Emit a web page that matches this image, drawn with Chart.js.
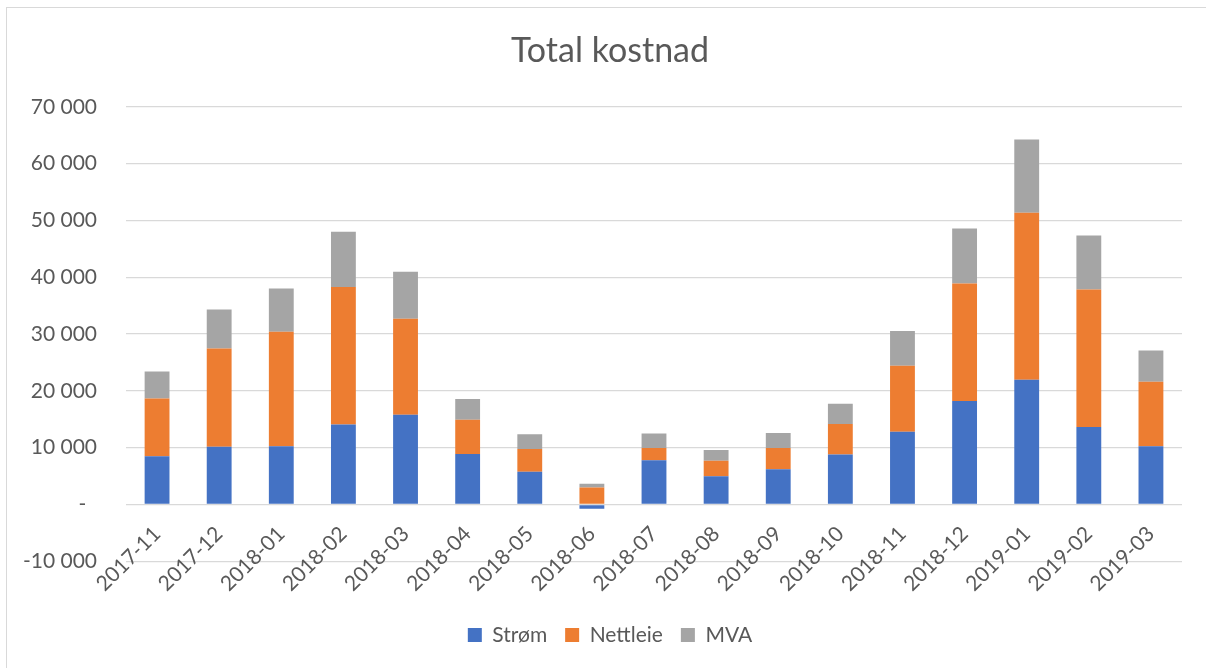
<!DOCTYPE html>
<html>
<head>
<meta charset="utf-8">
<script src="https://cdn.jsdelivr.net/npm/chart.js@4/dist/chart.umd.min.js"></script>
<style>
  html, body { margin: 0; padding: 0; background: #ffffff; overflow: hidden; }
  #wrap { position: relative; width: 1206px; height: 668px; }
  #frame { position: absolute; left: 6px; top: 7px; width: 1300px; height: 800px;
           border: 1.5px solid #d9d9d9; box-sizing: border-box; pointer-events: none; }
  canvas { position: absolute; left: 0; top: 0; }
</style>
</head>
<body>
<div id="wrap">
  <canvas id="c" width="1206" height="668"></canvas>
  <div id="frame"></div>
</div>
<script>
const categories = ["2017-11","2017-12","2018-01","2018-02","2018-03","2018-04","2018-05","2018-06","2018-07","2018-08","2018-09","2018-10","2018-11","2018-12","2019-01","2019-02","2019-03"];
const strom    = [8500, 10150, 10250, 14100, 15800, 8900, 5750, -750, 7800, 4950, 6200, 8800, 12800, 18200, 21950, 13650, 10250];
const nettleie = [10150, 17300, 20150, 24200, 16900, 6000, 4000, 3000, 2150, 2750, 3750, 5350, 11600, 20700, 29400, 24200, 11350];
const mva      = [4750, 6850, 7600, 9700, 8250, 3650, 2600, 650, 2550, 1900, 2650, 3600, 6150, 9700, 12900, 9500, 5500];
const seriesNames = ["Strøm", "Nettleie", "MVA"];
const titleText = "Total kostnad";
const yMin = -10000, yMax = 70000, yStep = 10000;

const FONT = "Lato, 'Open Sans', sans-serif";
const TXT = "#595959";

function fmt(v) {
  if (v === 0) return "-  ";
  const s = Math.abs(v).toString().replace(/\B(?=(\d{3})+(?!\d))/g, " ");
  return (v < 0 ? "-" : "") + s;
}

new Chart(document.getElementById("c"), {
  type: "bar",
  data: {
    labels: categories,
    datasets: [
      { label: seriesNames[0], data: strom, backgroundColor: "#4472C4" },
      { label: seriesNames[1], data: nettleie, backgroundColor: "#ED7D31" },
      { label: seriesNames[2], data: mva, backgroundColor: "#A5A5A5" }
    ]
  },
  options: {
    responsive: false,
    animation: false,
    devicePixelRatio: 1,
    layout: { padding: { left: 38, right: 24, top: 0, bottom: 12.5 } },
    datasets: { bar: { barPercentage: 1, categoryPercentage: 0.4, borderWidth: 0 } },
    plugins: {
      title: {
        display: true, text: titleText, color: TXT,
        font: { family: FONT, size: 34, weight: "normal" },
        padding: { top: 31, bottom: 35 }
      },
      legend: {
        position: "bottom",
        title: { display: true, text: "", font: { size: 1 }, padding: { top: 44, bottom: 0 } },
        labels: {
          color: TXT, boxWidth: 14, boxHeight: 14, padding: 18,
          font: { family: FONT, size: 21 }
        }
      },
      tooltip: { enabled: false }
    },
    scales: {
      x: {
        stacked: true,
        position: { y: 0 },
        grid: { display: false, drawTicks: false },
        border: { display: false },
        ticks: {
          color: TXT, font: { family: FONT, size: 21 },
          minRotation: 45, maxRotation: 45, autoSkip: false, padding: 17
        }
      },
      y: {
        stacked: true,
        min: yMin, max: yMax,
        grid: { color: "#d9d9d9", lineWidth: 1.3, drawTicks: false },
        border: { display: false },
        ticks: {
          stepSize: yStep, color: TXT, padding: 29,
          font: { family: FONT, size: 21 },
          callback: (v) => fmt(v)
        },
        afterFit: (s) => { s.width = 126 - 38; s._computeLabelArea = () => undefined; }
      }
    }
  }
});
</script>
</body>
</html>
